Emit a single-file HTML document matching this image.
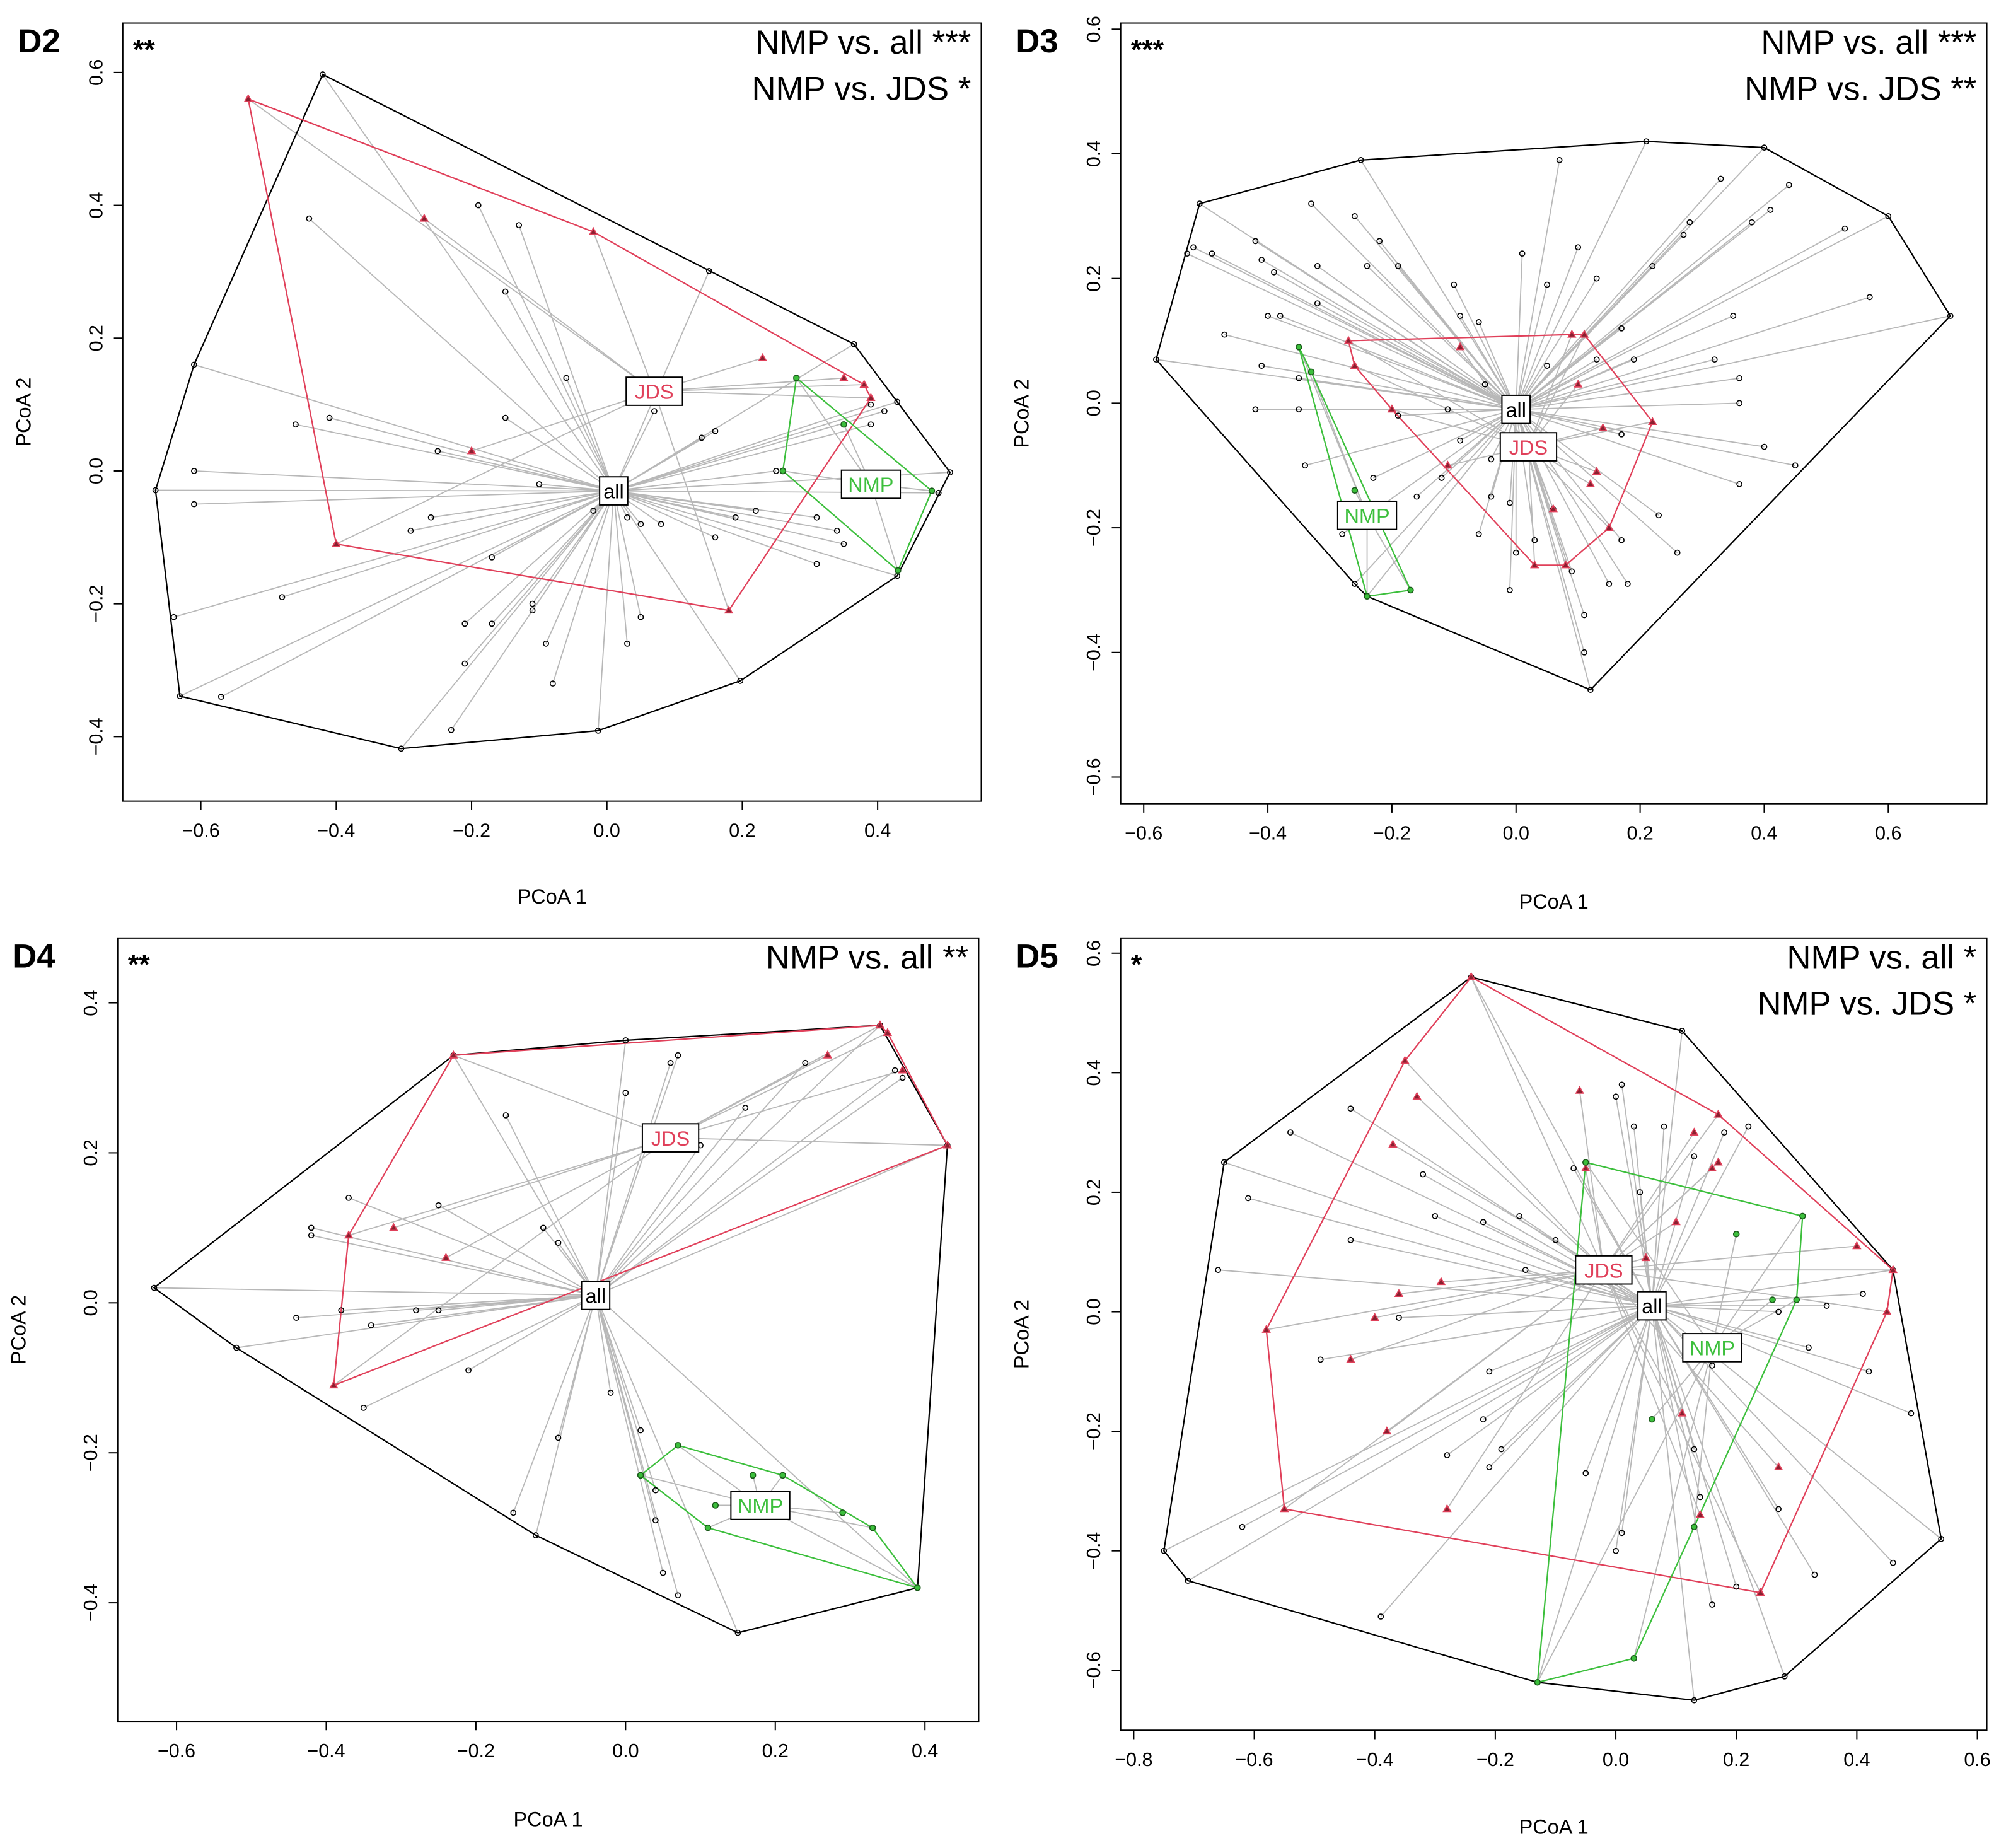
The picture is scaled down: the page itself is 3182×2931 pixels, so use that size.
<!DOCTYPE html>
<html><head><meta charset="utf-8">
<style>
html,body{margin:0;padding:0;background:#fff;}
svg{display:block;}
text{font-family:"Liberation Sans",Arial,sans-serif;}
</style></head>
<body>
<svg id="chart" width="3182" height="2931" viewBox="0 0 1568 1444" preserveAspectRatio="none" xmlns="http://www.w3.org/2000/svg">
<rect x="0" y="0" width="1568" height="1444" fill="#fff"/>
</svg>
<script>
// ---------------- DATA ----------------
const d2All = [[-0.667,-0.029],[-0.631,-0.339],[-0.304,-0.418],[-0.013,-0.391],[0.197,-0.316],[0.429,-0.158],[0.49,-0.033],[0.507,-0.002],[0.429,0.104],[0.365,0.191],[0.151,0.301],[-0.42,0.597],
[-0.44,0.38],[-0.19,0.40],[-0.13,0.37],[-0.15,0.27],[-0.61,0.16],[-0.46,0.07],[-0.41,0.08],[-0.61,0.0],[-0.61,-0.05],[-0.48,-0.19],[-0.64,-0.22],[-0.57,-0.34],[-0.25,0.03],[-0.15,0.08],[-0.10,-0.02],[-0.06,0.14],[0.07,0.09],[0.14,0.05],[0.16,0.06],[-0.26,-0.07],[-0.29,-0.09],[-0.17,-0.13],[-0.11,-0.20],[-0.11,-0.21],[-0.17,-0.23],[-0.21,-0.23],[-0.21,-0.29],[-0.23,-0.39],[-0.09,-0.26],[-0.08,-0.32],[0.03,-0.26],[0.05,-0.22],[-0.02,-0.06],[0.03,-0.07],[0.05,-0.08],[0.08,-0.08],[0.16,-0.10],[0.19,-0.07],[0.31,-0.07],[0.34,-0.09],[0.35,-0.11],[0.22,-0.06],[0.25,0.0],[0.31,-0.14],[0.39,0.10],[0.41,0.09],[0.39,0.07]];
const d2Jds = [[-0.53,0.56],[-0.02,0.36],[0.35,0.14],[0.39,0.11],[0.18,-0.21],[-0.40,-0.11],[-0.27,0.38],[-0.20,0.03],[0.23,0.17],[0.38,0.13]];
const d2Nmp = [[0.28,0.14],[0.26,0.0],[0.35,0.07],[0.48,-0.03],[0.43,-0.15]];
const d2Centroids = [[0.01,-0.03],[0.07,0.12],[0.39,-0.02]];

const d3All = [[-0.58,0.07],[-0.51,0.32],[-0.25,0.39],[0.21,0.42],[0.40,0.41],[0.60,0.30],[0.70,0.14],[0.12,-0.46],[-0.24,-0.31],
[-0.53,0.24],[-0.52,0.25],[-0.49,0.24],[-0.42,0.26],[-0.41,0.23],[-0.39,0.21],[-0.33,0.32],[-0.26,0.30],[-0.22,0.26],[-0.32,0.22],[-0.24,0.22],[-0.32,0.16],[-0.38,0.14],[-0.40,0.14],[-0.47,0.11],[-0.41,0.06],[-0.35,0.04],[-0.42,-0.01],[-0.35,-0.01],[-0.19,0.22],[-0.10,0.19],[-0.09,0.14],[-0.06,0.13],[0.01,0.24],[0.07,0.39],[0.10,0.25],[0.05,0.19],[0.13,0.20],[0.17,0.12],[0.22,0.22],[0.27,0.27],[0.28,0.29],[0.33,0.36],[0.38,0.29],[0.44,0.35],[0.41,0.31],[0.53,0.28],[0.57,0.17],[0.35,0.14],[0.32,0.07],[0.36,0.04],[0.36,0.0],[0.40,-0.07],[0.45,-0.10],[0.36,-0.13],[0.26,-0.24],[0.17,-0.22],[0.23,-0.18],[0.17,-0.05],[0.19,0.07],[0.13,0.07],[-0.04,-0.15],[-0.06,-0.21],[-0.01,-0.16],[0.0,-0.24],[-0.01,-0.30],[0.03,-0.22],[0.09,-0.27],[0.15,-0.29],[0.11,-0.34],[0.18,-0.29],[0.11,-0.40],[-0.09,-0.06],[-0.12,-0.12],[-0.16,-0.15],[-0.23,-0.12],[-0.34,-0.10],[-0.28,-0.21],[-0.26,-0.29],[-0.05,0.03],[0.05,0.06],[-0.04,-0.09],[-0.19,-0.02],[-0.11,-0.01],[0.06,-0.17]];
const d3Jds = [[-0.27,0.10],[0.09,0.11],[0.11,0.11],[0.22,-0.03],[0.15,-0.20],[0.08,-0.26],[0.03,-0.26],[-0.11,-0.10],[-0.20,-0.01],[-0.09,0.09],[-0.26,0.06],[0.10,0.03],[0.14,-0.04],[0.13,-0.11],[0.06,-0.17],[0.12,-0.13]];
const d3Nmp = [[-0.35,0.09],[-0.26,-0.14],[-0.17,-0.30],[-0.24,-0.31],[-0.33,0.05]];
const d3Centroids = [[0.0,-0.01],[0.02,-0.07],[-0.24,-0.18]];

const d4All = [[-0.63,0.02],[-0.23,0.33],[0.0,0.35],[0.34,0.37],[0.43,0.21],[0.39,-0.38],[0.15,-0.44],[-0.12,-0.31],
[-0.52,-0.06],[-0.37,0.14],[-0.42,0.10],[-0.42,0.09],[-0.44,-0.02],[-0.38,-0.01],[-0.34,-0.03],[-0.28,-0.01],[-0.25,-0.01],[-0.25,0.13],[-0.35,-0.14],[-0.21,-0.09],[-0.16,0.25],[-0.11,0.10],[-0.09,0.08],[-0.09,-0.18],[-0.15,-0.28],[-0.02,-0.12],[0.0,0.28],[0.06,0.32],[0.07,0.33],[0.10,0.21],[0.16,0.26],[0.24,0.32],[0.37,0.30],[0.02,-0.17],[0.04,-0.29],[0.05,-0.36],[0.07,-0.39],[0.04,-0.25],[0.36,0.31]];
const d4Jds = [[-0.23,0.33],[0.34,0.37],[0.37,0.31],[0.43,0.21],[-0.39,-0.11],[-0.37,0.09],[-0.31,0.10],[-0.24,0.06],[0.27,0.33],[0.35,0.36]];
const d4Nmp = [[0.02,-0.23],[0.07,-0.19],[0.21,-0.23],[0.29,-0.28],[0.33,-0.30],[0.39,-0.38],[0.11,-0.30],[0.12,-0.27],[0.17,-0.23]];
const d4Centroids = [[-0.04,0.01],[0.06,0.22],[0.18,-0.27]];

const d5All = [[-0.75,-0.40],[-0.71,-0.45],[-0.13,-0.62],[0.13,-0.65],[0.28,-0.61],[0.54,-0.38],[0.46,0.07],[0.22,0.31],[0.11,0.47],[-0.24,0.56],[-0.54,0.30],[-0.65,0.25],[-0.66,0.07],
[-0.61,0.19],[-0.44,0.34],[-0.44,0.12],[-0.32,0.23],[-0.30,0.16],[-0.22,0.15],[-0.16,0.16],[-0.07,0.24],[0.01,0.38],[0.0,0.36],[0.03,0.31],[0.04,0.20],[0.08,0.31],[0.13,0.26],[0.18,0.30],[-0.10,0.12],[-0.15,0.07],[-0.49,-0.08],[-0.21,-0.10],[-0.22,-0.18],[-0.19,-0.23],[-0.21,-0.26],[-0.28,-0.24],[-0.39,-0.51],[-0.62,-0.36],[-0.36,-0.01],[0.01,-0.37],[0.0,-0.40],[0.16,-0.49],[0.20,-0.46],[0.33,-0.44],[0.46,-0.42],[0.49,-0.17],[0.42,-0.10],[0.32,-0.06],[0.27,0.0],[0.35,0.01],[0.41,0.03],[0.27,-0.33],[0.13,-0.23],[0.16,-0.09],[0.14,-0.31],[-0.05,-0.27]];
const d5Jds = [[-0.24,0.56],[0.17,0.33],[0.46,0.07],[0.45,0.0],[0.24,-0.47],[-0.55,-0.33],[-0.58,-0.03],[-0.35,0.42],[-0.33,0.36],[-0.37,0.28],[-0.40,-0.01],[-0.44,-0.08],[-0.38,-0.20],[-0.28,-0.33],[-0.29,0.05],[-0.36,0.03],[-0.06,0.37],[-0.05,0.24],[0.13,0.30],[0.16,0.24],[0.17,0.25],[0.05,0.09],[0.11,-0.17],[0.14,-0.34],[0.27,-0.26],[0.40,0.11],[0.10,0.15]];
const d5Nmp = [[-0.05,0.25],[0.31,0.16],[0.30,0.02],[0.03,-0.58],[-0.13,-0.62],[0.13,-0.36],[0.06,-0.18],[0.20,0.13],[0.26,0.02]];
const d5Centroids = [[0.06,0.01],[-0.02,0.07],[0.16,-0.06]];

const d2XTicks = [-0.6,-0.4,-0.2,0.0,0.2,0.4];
const d2YTicks = [-0.4,-0.2,0.0,0.2,0.4,0.6];
const d3XTicks = [-0.6,-0.4,-0.2,0.0,0.2,0.4,0.6];
const d3YTicks = [-0.6,-0.4,-0.2,0.0,0.2,0.4,0.6];
const d4XTicks = [-0.6,-0.4,-0.2,0.0,0.2,0.4];
const d4YTicks = [-0.4,-0.2,0.0,0.2,0.4];
const d5XTicks = [-0.8,-0.6,-0.4,-0.2,0.0,0.2,0.4,0.6];
const d5YTicks = [-0.6,-0.4,-0.2,0.0,0.2,0.4,0.6];

// ---------------- DRAWING ----------------
const NS = 'http://www.w3.org/2000/svg';
const svg = document.getElementById('chart');
function el(tag, attrs, parent){
  const e = document.createElementNS(NS, tag);
  for (const k in attrs) e.setAttribute(k, attrs[k]);
  (parent||svg).appendChild(e);
  return e;
}
function hull(pts){
  const p = pts.slice().sort((a,b)=>a[0]-b[0]||a[1]-b[1]);
  const cross=(o,a,b)=>(a[0]-o[0])*(b[1]-o[1])-(a[1]-o[1])*(b[0]-o[0]);
  const lo=[],up=[];
  for(const q of p){while(lo.length>=2&&cross(lo[lo.length-2],lo[lo.length-1],q)<=0)lo.pop();lo.push(q);}
  for(let i=p.length-1;i>=0;i--){const q=p[i];while(up.length>=2&&cross(up[up.length-2],up[up.length-1],q)<=0)up.pop();up.push(q);}
  lo.pop();up.pop();return lo.concat(up);
}
function fmt(v){return v.toFixed(1).replace('-','\u2212').replace('\u22120.0','0.0');}

const panels = [
 {id:'d2',label:'D2',box:[96,18,767,626],x0:474.4,xs:529,y0:368,ys:519,all:d2All,jds:d2Jds,nmp:d2Nmp,cen:d2Centroids,xt:d2XTicks,yt:d2YTicks,star:'**',ann:['NMP vs. all ***','NMP vs. JDS *'],xTitleY:706},
 {id:'d3',label:'D3',box:[876,18,1553,628],x0:1185,xs:485,y0:315,ys:487,all:d3All,jds:d3Jds,nmp:d3Nmp,cen:d3Centroids,xt:d3XTicks,yt:d3YTicks,star:'***',ann:['NMP vs. all ***','NMP vs. JDS **'],xTitleY:710},
 {id:'d4',label:'D4',box:[92,733,765,1345],x0:489,xs:585,y0:1018,ys:586,all:d4All,jds:d4Jds,nmp:d4Nmp,cen:d4Centroids,xt:d4XTicks,yt:d4YTicks,star:'**',ann:['NMP vs. all **'],xTitleY:1427},
 {id:'d5',label:'D5',box:[876,733,1553,1352],x0:1263,xs:471,y0:1025,ys:467,all:d5All,jds:d5Jds,nmp:d5Nmp,cen:d5Centroids,xt:d5XTicks,yt:d5YTicks,star:'*',ann:['NMP vs. all *','NMP vs. JDS *'],xTitleY:1433}
];

panels.forEach(P=>{
  const g = el('g',{});
  
  
  const X=v=>P.x0+v*P.xs, Y=v=>P.y0-v*P.ys;
  const [bx0,by0,bx1,by1]=P.box;
  const groups=[['all',P.all,'#000',P.cen[0]],['jds',P.jds,'#e0405a',P.cen[1]],['nmp',P.nmp,'#3cbf3c',P.cen[2]]];
  groups.forEach(([nm,pts,col,c])=>{
    pts.forEach(p=>{
      const l=el('line',{x1:X(p[0]),y1:Y(p[1]),x2:X(c[0]),y2:Y(c[1]),stroke:'#b8b8b8','stroke-width':0.9},g);
      
      
    });
  });
  groups.forEach(([nm,pts,col])=>{
    const h=hull(pts).map(p=>X(p[0])+','+Y(p[1])).join(' ');
    const pg=el('polygon',{points:h,fill:'none',stroke:col,'stroke-width':1.1},g);
    
    
  });
  P.all.forEach(p=>{
    const c=el('circle',{cx:X(p[0]),cy:Y(p[1]),r:2,fill:'none',stroke:'#000','stroke-width':0.8},g);
    
    
  });
  P.jds.forEach(p=>{
    const x=X(p[0]),y=Y(p[1]);
    const t=el('polygon',{points:`${x},${y-3} ${x-2.8},${y+2} ${x+2.8},${y+2}`,fill:'#8a2030',stroke:'#e0405a','stroke-width':0.9},g);
    
    
  });
  P.nmp.forEach(p=>{
    const c=el('circle',{cx:X(p[0]),cy:Y(p[1]),r:2.2,fill:'#3cbf3c',stroke:'#1a5a1a','stroke-width':0.8},g);
    
    
  });
  const labs=[['all','#000',P.cen[0]],['JDS','#e0405a',P.cen[1]],['NMP','#3cbf3c',P.cen[2]]];
  labs.forEach(([t,col,c])=>{
    const w=t==='all'?22:(t==='JDS'?44:46);
    const x=X(c[0]),y=Y(c[1]);
    const r=el('rect',{x:x-w/2,y:y-11,width:w,height:22,fill:'#fff',stroke:'#000','stroke-width':1},g);
    
    
    const tx=el('text',{x:x,y:y+6,'text-anchor':'middle','font-size':16,fill:col},g);
    tx.textContent=t;
    
    
  });
  const fr=el('rect',{x:bx0,y:by0,width:bx1-bx0,height:by1-by0,fill:'none',stroke:'#000','stroke-width':1},g);
  
  
  P.xt.forEach(v=>{
    const x=X(v);
    el('line',{x1:x,y1:by1,x2:x,y2:by1+7,stroke:'#000','stroke-width':1},g);
    const t=el('text',{x:x,y:by1+28,'text-anchor':'middle','font-size':15,fill:'#000'},g);
    t.textContent=fmt(v);
    
    
  });
  P.yt.forEach(v=>{
    const y=Y(v);
    el('line',{x1:bx0,y1:y,x2:bx0-7,y2:y,stroke:'#000','stroke-width':1},g);
    const t=el('text',{x:bx0-16,y:y,'text-anchor':'middle','font-size':15,fill:'#000',transform:`rotate(-90 ${bx0-16} ${y})`},g);
    t.textContent=fmt(v);
    
    
  });
  const xt=el('text',{x:(bx0+bx1)/2,y:P.xTitleY,'text-anchor':'middle','font-size':16,fill:'#000'},g);
  xt.textContent='PCoA 1';
  
  
  const yx=bx0-72, yy=(by0+by1)/2;
  const yt=el('text',{x:yx,y:yy,'text-anchor':'middle','font-size':16,fill:'#000',transform:`rotate(-90 ${yx} ${yy})`},g);
  yt.textContent='PCoA 2';
  
  
  const pl=el('text',{x:bx0-82,y:by0+23,'font-size':26,'font-weight':'bold',fill:'#000'},g);
  pl.textContent=P.label;
  
  
  const st=el('text',{x:bx0+8,y:by0+28,'font-size':22,'font-weight':'bold',fill:'#000'},g);
  st.textContent=P.star;
  
  
  P.ann.forEach((a,i)=>{
    const t=el('text',{x:bx1-8,y:by0+24+i*36,'text-anchor':'end','font-size':26,fill:'#000'},g);
    t.textContent=a;
    
    
  });
});
</script>
</body></html>
